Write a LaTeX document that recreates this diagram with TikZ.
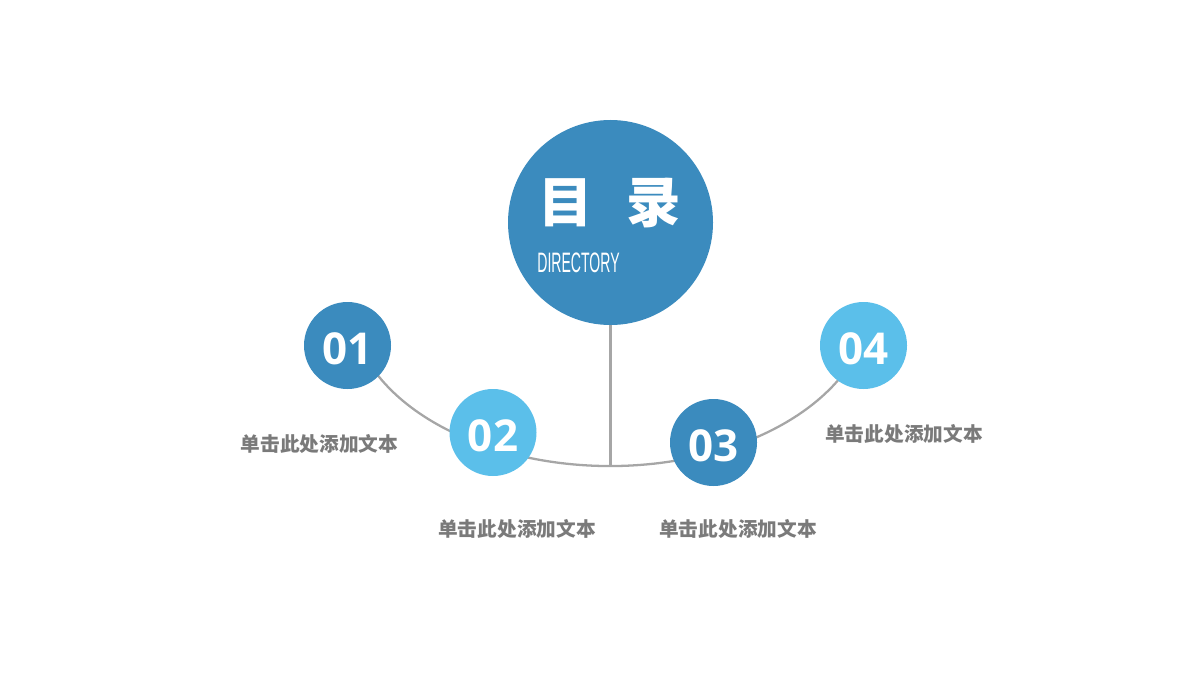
\documentclass[tikz,border=0pt]{standalone}
\usepackage{fontspec}
\setmainfont{Open Sans}
\newfontfamily\cjk{Noto Sans CJK SC}
\newfontfamily\dirfont{Liberation Sans}[FakeStretch=0.5]
\usetikzlibrary{backgrounds}

\definecolor{darkblue}{HTML}{3B8BBE}
\definecolor{lightblue}{HTML}{5BBFEA}
\definecolor{linegray}{HTML}{A6A6A6}
\definecolor{textgray}{HTML}{7A7A7A}

\tikzset{
  num/.style={circle, fill=#1, minimum size=1.74cm, inner sep=0pt,
    text=white, text height=0.76cm, text depth=0pt,
    font=\fontsize{25}{25}\selectfont\bfseries},
  caption/.style={text=textgray, font=\cjk\fontsize{11.2}{12}\selectfont\bfseries},
  link/.style={draw=linegray, line width=1.3pt}
}

\begin{document}
\begin{tikzpicture}
  \useasboundingbox (0,0) rectangle (24,13.5);

  % Title circle
  \node[circle, fill=darkblue, minimum size=4.1cm, inner sep=0pt] (dir) at (12.21,9.05) {};
  \node[text=white, font=\cjk\fontsize{31}{31}\selectfont\bfseries] (title) at (12.19,9.44) {目\hspace{0.68cm}录};
  \node[text=white, font=\dirfont\fontsize{16}{16}\selectfont] (sub) at (11.57,8.25) {DIRECTORY};

  % Items
  \node[num=darkblue] (n1) at (6.95,6.59) {01};
  \node[num=lightblue] (n2) at (9.86,4.85) {02};
  \node[num=darkblue] (n3) at (14.27,4.65) {03};
  \node[num=lightblue] (n4) at (17.27,6.59) {04};

  % Captions
  \node[caption] (t1) at (6.39,4.62) {单击此处添加文本};
  \node[caption] (t2) at (10.34,2.92) {单击此处添加文本};
  \node[caption] (t3) at (14.76,2.92) {单击此处添加文本};
  \node[caption] (t4) at (18.08,4.82) {单击此处添加文本};

  % Arc and stem
  \coordinate (arcC) at (12.2,7.48);
  \coordinate (bot) at (12.21,4.18);
  \begin{scope}[on background layer]
    \draw[link] (arcC) ++(200:5.2 and 3.3) arc[start angle=200, end angle=340, x radius=5.2, y radius=3.3];
    \draw[link] (dir.south) -- (bot);
  \end{scope}

\end{tikzpicture}
\end{document}
